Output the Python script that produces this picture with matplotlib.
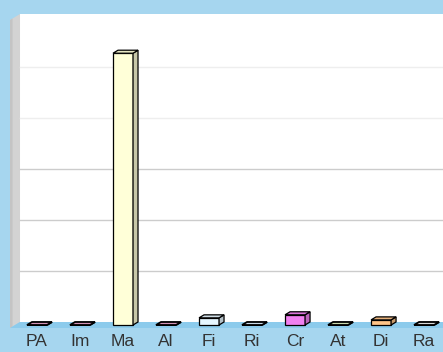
import matplotlib.pyplot as plt
from matplotlib.patches import Polygon
from matplotlib.colors import to_rgb
import numpy as np

# categorias e valores
categorias = ["PA", "Im", "Ma", "Al", "Fi", "Ri", "Cr", "At", "Di", "Ra"]
valores = [0, 0, 53.3, 0, 1.4, 0, 2.0, 0, 1.0, 0]
cores = ["#e8a0c8", "#e8a0c8", "#ffffd8", "#e8a0c8", "#e6f6ff",
         "#e0f0ff", "#f080f0", "#e0f0c0", "#ffc488", "#f0f0f0"]
grade = [10, 20, 30, 40, 50]

fundo = "#a6d6ef"
fig = plt.figure(figsize=(4.43, 3.52), dpi=100, facecolor=fundo)
ax = fig.add_axes([10 / 443, 24 / 352, 433 / 443, 314 / 352])
ax.set_facecolor("none")

xmin, xmax = -0.628, 9.44
ymin, ymax = -1.18, 60.4
ax.set_xlim(xmin, xmax)
ax.set_ylim(ymin, ymax)

# profundidade do "3D"
parede_x = -0.395      # fundo da parede esquerda
larg = 0.465           # largura da barra
dx, dy = 0.116, 0.59   # deslocamento da face lateral/topo

# parede do fundo (branca)
ax.add_patch(Polygon([(parede_x, 0), (xmax, 0), (xmax, ymax), (parede_x, ymax)],
                     closed=True, facecolor="white", edgecolor="none", zorder=0))
# parede esquerda (cinza, um pouco mais escura na borda)
ax.add_patch(Polygon([(xmin, ymin), (parede_x, 0), (parede_x, ymax), (xmin, ymax + ymin)],
                     closed=True, facecolor="#d3d3d3", edgecolor="none", zorder=1))
ax.add_patch(Polygon([(xmin, ymin), (xmin + 0.06, ymin + 0.3), (xmin + 0.06, ymax + ymin + 0.3),
                      (xmin, ymax + ymin)],
                     closed=True, facecolor="#c4c4c4", edgecolor="none", zorder=1))
# chão azul
ax.add_patch(Polygon([(xmin, ymin), (xmax, ymin), (xmax, 0), (parede_x, 0)],
                     closed=True, facecolor="#8ccbec", edgecolor="none", zorder=1))

# linhas de grade (as de cima quase somem)
for g in grade:
    cor = "#cccccc" if g <= 30 else "#eeeeee"
    ax.plot([parede_x, xmax], [g, g], color=cor, lw=1, zorder=1)


def escurece(c, f):
    r, g, b = to_rgb(c)
    return (r * f, g * f, b * f)


x = np.arange(len(categorias))
for i, v in enumerate(valores):
    c = cores[i]
    esq, dir_ = x[i] - larg / 2, x[i] + larg / 2
    lw = 0.9 if v > 0 else 1.3
    # face da frente
    ax.bar(x[i], v, width=larg, bottom=-dy, color=c, edgecolor="black",
           linewidth=lw, zorder=3)
    # face lateral
    ax.add_patch(Polygon([(dir_, -dy), (dir_ + dx, 0), (dir_ + dx, v), (dir_, v - dy)],
                         closed=True, facecolor=escurece(c, 0.78), edgecolor="black",
                         linewidth=lw, zorder=3))
    # topo
    ax.add_patch(Polygon([(esq, v - dy), (dir_, v - dy), (dir_ + dx, v), (esq + dx, v)],
                         closed=True, facecolor=escurece(c, 0.9), edgecolor="black",
                         linewidth=lw, zorder=4))

ax.set_xticks(x)
ax.set_xticklabels(categorias, fontsize=12.5, family="Liberation Sans", color="#333333")
ax.set_yticks([])
ax.tick_params(axis="x", length=0, pad=4)
for s in ax.spines.values():
    s.set_visible(False)

fig.savefig("out.png", dpi=100, facecolor=fundo)
